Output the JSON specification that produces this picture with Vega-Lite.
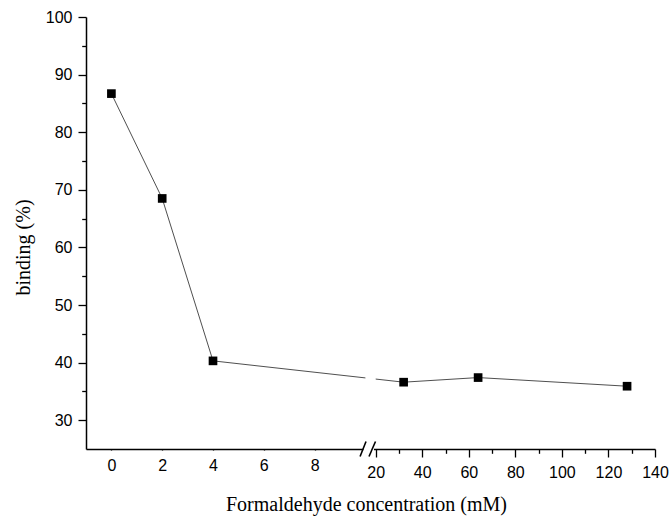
{
  "$schema": "https://vega.github.io/schema/vega-lite/v6.json",
  "autosize": "none",
  "padding": {"left": 86, "top": 17, "right": 15, "bottom": 68},
  "width": 569,
  "height": 432,
  "background": "white",
  "config": {
    "view": {"stroke": null},
    "axis": {
      "domainColor": "black",
      "domainWidth": 1.5,
      "tickColor": "black",
      "tickWidth": 1.3,
      "labelColor": "black",
      "labelFont": "Liberation Sans",
      "labelFontSize": 16,
      "labelFlush": false,
      "labelOverlap": false,
      "titleColor": "black",
      "titleFont": "Liberation Serif",
      "titleFontSize": 20,
      "titleFontWeight": "normal",
      "titleBaseline": "alphabetic",
      "grid": false
    }
  },
  "datasets": {
    "points": [
      {"conc": 0, "binding": 86.7},
      {"conc": 2, "binding": 68.5},
      {"conc": 4, "binding": 40.3},
      {"conc": 32, "binding": 36.6},
      {"conc": 64, "binding": 37.4},
      {"conc": 128, "binding": 35.9}
    ],
    "one": [{"k": 1}]
  },
  "layer": [
    {
      "data": {"name": "points"},
      "mark": {"type": "line", "color": "#222", "strokeWidth": 0.8},
      "encoding": {
        "x": {
          "field": "conc",
          "type": "quantitative",
          "scale": {"domain": [-1, 10, 20, 140], "range": [0, 279.4, 289.7, 569], "nice": false, "zero": false},
          "axis": {
            "title": "Formaldehyde concentration (mM)",
            "values": [-1, 0, 1, 2, 3, 4, 5, 6, 7, 8, 9, 20, 30, 40, 50, 60, 70, 80, 90, 100, 110, 120, 130, 140],
            "tickSize": {"condition": {"test": "datum.value < 10 ? datum.value % 2 == 0 : datum.value % 20 == 0", "value": 8}, "value": 4.3},
            "labelExpr": "(datum.value < 10 ? datum.value % 2 == 0 : datum.value % 20 == 0) ? datum.label : ''",
            "labelPadding": 7,
            "titleX": 280,
            "titleY": 61
          }
        },
        "y": {
          "field": "binding",
          "type": "quantitative",
          "scale": {"domain": [25, 100], "nice": false, "zero": false},
          "axis": {
            "title": "binding (%)",
            "values": [30, 35, 40, 45, 50, 55, 60, 65, 70, 75, 80, 85, 90, 95, 100],
            "tickSize": {"condition": {"test": "datum.value % 10 == 0", "value": 8}, "value": 4.3},
            "labelExpr": "datum.value % 10 == 0 ? datum.label : ''",
            "labelPadding": 6,
            "titleX": -57,
            "titleY": 230
          }
        }
      }
    },
    {
      "data": {"name": "one"},
      "mark": {"type": "rect", "color": "white"},
      "encoding": {
        "x": {
          "datum": 10,
          "type": "quantitative",
          "axis": {
            "title": "Formaldehyde concentration (mM)",
            "values": [-1, 0, 1, 2, 3, 4, 5, 6, 7, 8, 9, 20, 30, 40, 50, 60, 70, 80, 90, 100, 110, 120, 130, 140],
            "tickSize": {"condition": {"test": "datum.value < 10 ? datum.value % 2 == 0 : datum.value % 20 == 0", "value": 8}, "value": 4.3},
            "labelExpr": "(datum.value < 10 ? datum.value % 2 == 0 : datum.value % 20 == 0) ? datum.label : ''",
            "labelPadding": 7,
            "titleX": 280,
            "titleY": 61
          }
        },
        "x2": {"datum": 20},
        "y": {
          "datum": 36.8,
          "type": "quantitative",
          "axis": {
            "title": "binding (%)",
            "values": [30, 35, 40, 45, 50, 55, 60, 65, 70, 75, 80, 85, 90, 95, 100],
            "tickSize": {"condition": {"test": "datum.value % 10 == 0", "value": 8}, "value": 4.3},
            "labelExpr": "datum.value % 10 == 0 ? datum.label : ''",
            "labelPadding": 6,
            "titleX": -57,
            "titleY": 230
          }
        },
        "y2": {"datum": 38.1}
      }
    },
    {
      "data": {"name": "points"},
      "mark": {"type": "square", "size": 75, "color": "black", "opacity": 1, "filled": true},
      "encoding": {
        "x": {
          "field": "conc",
          "type": "quantitative",
          "axis": {
            "title": "Formaldehyde concentration (mM)",
            "values": [-1, 0, 1, 2, 3, 4, 5, 6, 7, 8, 9, 20, 30, 40, 50, 60, 70, 80, 90, 100, 110, 120, 130, 140],
            "tickSize": {"condition": {"test": "datum.value < 10 ? datum.value % 2 == 0 : datum.value % 20 == 0", "value": 8}, "value": 4.3},
            "labelExpr": "(datum.value < 10 ? datum.value % 2 == 0 : datum.value % 20 == 0) ? datum.label : ''",
            "labelPadding": 7,
            "titleX": 280,
            "titleY": 61
          }
        },
        "y": {
          "field": "binding",
          "type": "quantitative",
          "axis": {
            "title": "binding (%)",
            "values": [30, 35, 40, 45, 50, 55, 60, 65, 70, 75, 80, 85, 90, 95, 100],
            "tickSize": {"condition": {"test": "datum.value % 10 == 0", "value": 8}, "value": 4.3},
            "labelExpr": "datum.value % 10 == 0 ? datum.label : ''",
            "labelPadding": 6,
            "titleX": -57,
            "titleY": 230
          }
        }
      }
    },
    {
      "data": {"name": "one"},
      "mark": {"type": "rect", "color": "white", "clip": false},
      "encoding": {
        "x": {
          "datum": 9.92,
          "type": "quantitative",
          "axis": {
            "title": "Formaldehyde concentration (mM)",
            "values": [-1, 0, 1, 2, 3, 4, 5, 6, 7, 8, 9, 20, 30, 40, 50, 60, 70, 80, 90, 100, 110, 120, 130, 140],
            "tickSize": {"condition": {"test": "datum.value < 10 ? datum.value % 2 == 0 : datum.value % 20 == 0", "value": 8}, "value": 4.3},
            "labelExpr": "(datum.value < 10 ? datum.value % 2 == 0 : datum.value % 20 == 0) ? datum.label : ''",
            "labelPadding": 7,
            "titleX": 280,
            "titleY": 61
          }
        },
        "x2": {"datum": 18.3},
        "y": {
          "datum": 24.5,
          "type": "quantitative",
          "axis": {
            "title": "binding (%)",
            "values": [30, 35, 40, 45, 50, 55, 60, 65, 70, 75, 80, 85, 90, 95, 100],
            "tickSize": {"condition": {"test": "datum.value % 10 == 0", "value": 8}, "value": 4.3},
            "labelExpr": "datum.value % 10 == 0 ? datum.label : ''",
            "labelPadding": 6,
            "titleX": -57,
            "titleY": 230
          }
        },
        "y2": {"datum": 25.5}
      }
    },
    {
      "data": {"name": "one"},
      "mark": {"type": "rule", "color": "black", "strokeWidth": 1.6, "clip": false},
      "encoding": {
        "x": {
          "datum": 9.79,
          "type": "quantitative",
          "axis": {
            "title": "Formaldehyde concentration (mM)",
            "values": [-1, 0, 1, 2, 3, 4, 5, 6, 7, 8, 9, 20, 30, 40, 50, 60, 70, 80, 90, 100, 110, 120, 130, 140],
            "tickSize": {"condition": {"test": "datum.value < 10 ? datum.value % 2 == 0 : datum.value % 20 == 0", "value": 8}, "value": 4.3},
            "labelExpr": "(datum.value < 10 ? datum.value % 2 == 0 : datum.value % 20 == 0) ? datum.label : ''",
            "labelPadding": 7,
            "titleX": 280,
            "titleY": 61
          }
        },
        "x2": {"datum": 10.6},
        "y": {
          "datum": 23.7,
          "type": "quantitative",
          "axis": {
            "title": "binding (%)",
            "values": [30, 35, 40, 45, 50, 55, 60, 65, 70, 75, 80, 85, 90, 95, 100],
            "tickSize": {"condition": {"test": "datum.value % 10 == 0", "value": 8}, "value": 4.3},
            "labelExpr": "datum.value % 10 == 0 ? datum.label : ''",
            "labelPadding": 6,
            "titleX": -57,
            "titleY": 230
          }
        },
        "y2": {"datum": 26.3}
      }
    },
    {
      "data": {"name": "one"},
      "mark": {"type": "rule", "color": "black", "strokeWidth": 1.6, "clip": false},
      "encoding": {
        "x": {
          "datum": 13.5,
          "type": "quantitative",
          "axis": {
            "title": "Formaldehyde concentration (mM)",
            "values": [-1, 0, 1, 2, 3, 4, 5, 6, 7, 8, 9, 20, 30, 40, 50, 60, 70, 80, 90, 100, 110, 120, 130, 140],
            "tickSize": {"condition": {"test": "datum.value < 10 ? datum.value % 2 == 0 : datum.value % 20 == 0", "value": 8}, "value": 4.3},
            "labelExpr": "(datum.value < 10 ? datum.value % 2 == 0 : datum.value % 20 == 0) ? datum.label : ''",
            "labelPadding": 7,
            "titleX": 280,
            "titleY": 61
          }
        },
        "x2": {"datum": 19.8},
        "y": {
          "datum": 23.7,
          "type": "quantitative",
          "axis": {
            "title": "binding (%)",
            "values": [30, 35, 40, 45, 50, 55, 60, 65, 70, 75, 80, 85, 90, 95, 100],
            "tickSize": {"condition": {"test": "datum.value % 10 == 0", "value": 8}, "value": 4.3},
            "labelExpr": "datum.value % 10 == 0 ? datum.label : ''",
            "labelPadding": 6,
            "titleX": -57,
            "titleY": 230
          }
        },
        "y2": {"datum": 26.3}
      }
    }
  ]
}
